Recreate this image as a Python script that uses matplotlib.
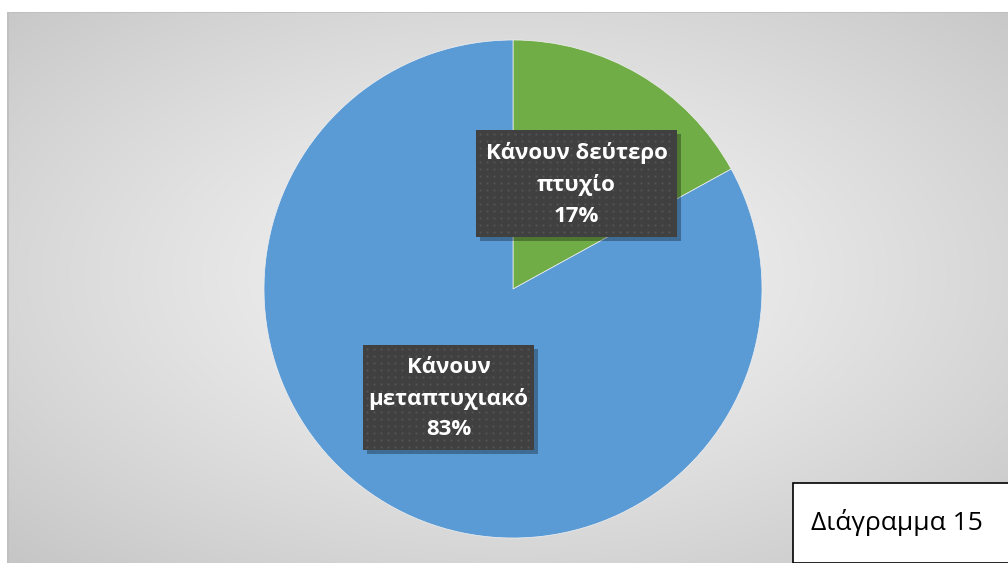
import numpy as np
import matplotlib
matplotlib.use("Agg")
import matplotlib.pyplot as plt
from matplotlib.patches import Rectangle

labels = ["Κάνουν δεύτερο\nπτυχίο", "Κάνουν\nμεταπτυχιακό"]
values = [17, 83]
colors = ["#70AD47", "#5B9BD5"]
caption = "Διάγραμμα 15"

W, H = 1008, 563
fig = plt.figure(figsize=(W / 100, H / 100), dpi=100)
fig.patch.set_facecolor("white")

# background radial gradient panel
bg = fig.add_axes([7 / W, 0, 1 - 7 / W, 1 - 12 / H])
bg.set_axis_off()
ny, nx = 300, 540
yy, xx = np.mgrid[0:ny, 0:nx]
cx, cy = nx * 0.5, ny * 0.52
r = np.sqrt(((xx - cx) / (nx * 0.5)) ** 2 + ((yy - cy) / (ny * 0.5)) ** 2) / np.sqrt(2)
r = np.clip(r, 0, 1)
val = 0.96 - (0.96 - 0.78) * r ** 1.2
img = np.dstack([val, val, val])
bg.imshow(img, aspect="auto", extent=[0, 1, 0, 1], origin="lower")
bg.set_xlim(0, 1)
bg.set_ylim(0, 1)
bg.plot([0, 1], [1, 1], color="#bdbdbd", lw=1.2, transform=bg.transAxes)
bg.plot([0, 0], [0, 1], color="#c0c0c0", lw=2.0, transform=bg.transAxes)

# pie
R = 249
cxp, cyp = 513, H - 289
ax = fig.add_axes([(cxp - R) / W, (cyp - R) / H, 2 * R / W, 2 * R / H])
ax.pie(values, colors=colors, startangle=90, counterclock=False,
       radius=1.0, wedgeprops=dict(linewidth=0.5, edgecolor="#f0f0f0"))
ax.set_xlim(-1, 1)
ax.set_ylim(-1, 1)
ax.set_aspect("auto")
ax.set_axis_off()

# label boxes (pixel boxes: x0, y0_top, x1, y1_bottom)
boxes = [(476, 130, 677, 237), (363, 345, 534, 450)]
for (lab, v, (x0, y0, x1, y1)) in zip(labels, values, boxes):
    fx0, fx1 = x0 / W, x1 / W
    fy0, fy1 = 1 - y1 / H, 1 - y0 / H
    fig.patches.append(Rectangle((fx0 + 4 / W, fy0 - 4 / H), fx1 - fx0, fy1 - fy0,
                                 transform=fig.transFigure, facecolor="#000000",
                                 alpha=0.3, edgecolor="none", zorder=5))
    fig.patches.append(Rectangle((fx0, fy0), fx1 - fx0, fy1 - fy0,
                                 transform=fig.transFigure, facecolor="#404040",
                                 edgecolor="none", zorder=6))
    xs = np.arange(x0 + 4, x1 - 2, 7)
    ys = np.arange(y0 + 4, y1 - 2, 7)
    gx, gy = np.meshgrid(xs, ys)
    fig.add_artist(plt.Line2D(gx.ravel() / W, 1 - gy.ravel() / H, ls="none",
                              marker="s", ms=1.4, mec="none", mfc="#555555",
                              transform=fig.transFigure, zorder=7))
    fig.text((fx0 + fx1) / 2, (fy0 + fy1) / 2 - 1 / H, f"{lab}\n{v}%", ha="center",
             va="center", color="white", fontsize=16, fontweight="bold",
             family="Open Sans", linespacing=1.6, zorder=8)

# caption box
fig.patches.append(Rectangle((793 / W, 0), (W - 793) / W + 0.01, (563 - 483) / H,
                             transform=fig.transFigure, facecolor="white",
                             edgecolor="black", lw=1.2, zorder=9))
fig.text(811 / W, 1 - 523 / H, caption, ha="left", va="center", fontsize=19,
         family="Open Sans", color="black", zorder=10)

fig.savefig("out.png", dpi=100)
